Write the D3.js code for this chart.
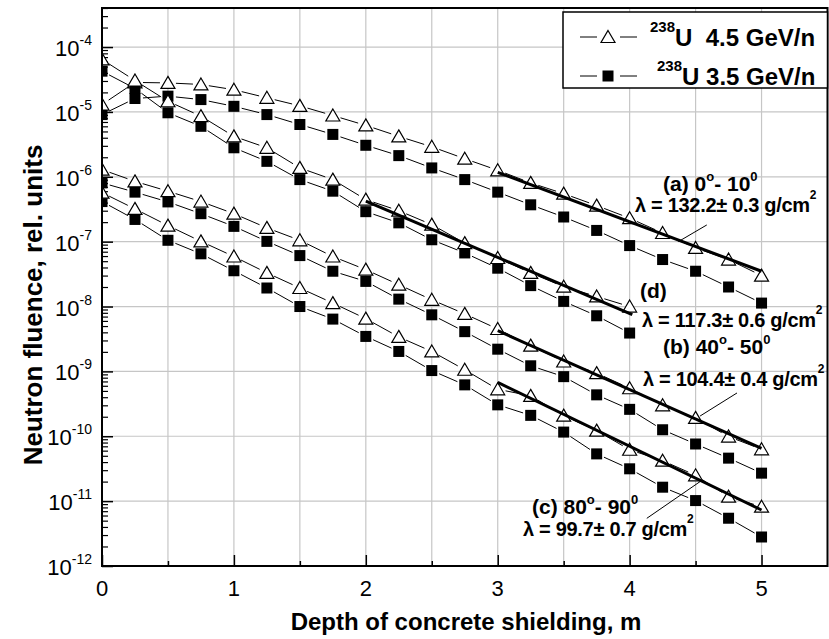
<!DOCTYPE html>
<html>
<head>
<meta charset="utf-8">
<script src="https://cdn.jsdelivr.net/npm/d3@7"></script>
<style>
  body { margin: 0; background: #fff; }
  text { font-family: "Liberation Sans", Arial, sans-serif; fill: #000; }
</style>
</head>
<body>
<svg id="chart" width="829" height="639"></svg>
<script>
// Depth of concrete (m)
const depthFull = [0, 0.25, 0.5, 0.75, 1, 1.25, 1.5, 1.75, 2, 2.25, 2.5, 2.75, 3, 3.25, 3.5, 3.75, 4, 4.25, 4.5, 4.75, 5];
const depthShort = [0, 0.25, 0.5, 0.75, 1, 1.25, 1.5, 1.75, 2, 2.25, 2.5, 2.75, 3, 3.25, 3.5, 3.75, 4];

// (a) 0-10 deg
const fluenceA45 = [1.30e-5, 2.85e-5, 2.8e-5, 2.65e-5, 2.2e-5, 1.65e-5, 1.24e-5, 8.8e-6, 6.2e-6, 4.2e-6, 2.9e-6, 1.9e-6, 1.26e-6, 8.05e-7, 5.5e-7, 3.6e-7, 2.3e-7, 1.36e-7, 8.0e-8, 5.3e-8, 3.0e-8];
const fluenceA35 = [9.1e-6, 1.61e-5, 1.75e-5, 1.55e-5, 1.22e-5, 9.1e-6, 6.4e-6, 4.5e-6, 3.06e-6, 2.12e-6, 1.37e-6, 9.05e-7, 5.8e-7, 3.7e-7, 2.4e-7, 1.49e-7, 8.7e-8, 5.3e-8, 3.5e-8, 2.0e-8, 1.13e-8];
// (d)
const fluenceD45 = [6.45e-5, 3.05e-5, 1.46e-5, 8.6e-6, 4.2e-6, 2.8e-6, 1.37e-6, 9.05e-7, 4.45e-7, 3.0e-7, 1.83e-7, 9.5e-8, 5.6e-8, 3.3e-8, 2.02e-8, 1.43e-8, 1.0e-8];
const fluenceD35 = [4.25e-5, 2.3e-5, 9.7e-6, 6.0e-6, 2.8e-6, 1.73e-6, 9.05e-7, 6.0e-7, 2.9e-7, 1.95e-7, 1.07e-7, 6.7e-8, 3.9e-8, 2.1e-8, 1.2e-8, 7.2e-9, 3.9e-9];
// (b) 40-50 deg
const fluenceB45 = [1.29e-6, 8.5e-7, 6.0e-7, 4.15e-7, 2.7e-7, 1.63e-7, 1.05e-7, 5.9e-8, 3.7e-8, 2.17e-8, 1.27e-8, 7.7e-9, 4.5e-9, 2.5e-9, 1.42e-9, 9.4e-10, 5.5e-10, 3.0e-10, 1.92e-10, 9.9e-11, 6.3e-11];
const fluenceB35 = [8.05e-7, 5.8e-7, 4.1e-7, 2.7e-7, 1.72e-7, 1.01e-7, 6.1e-8, 3.5e-8, 2.44e-8, 1.3e-8, 7.45e-9, 4.1e-9, 2.2e-9, 1.22e-9, 8.3e-10, 4.35e-10, 2.6e-10, 1.26e-10, 7.6e-11, 4.6e-11, 2.7e-11];
// (c) 80-90 deg
const fluenceC45 = [5.7e-7, 3.2e-7, 1.77e-7, 1.01e-7, 5.9e-8, 3.3e-8, 1.93e-8, 1.13e-8, 6.5e-9, 3.4e-9, 2.03e-9, 1.06e-9, 5.3e-10, 4.2e-10, 2.08e-10, 1.22e-10, 6.2e-11, 4.2e-11, 2.5e-11, 1.17e-11, 8.2e-12];
const fluenceC35 = [4.15e-7, 2.2e-7, 1.05e-7, 6.5e-8, 3.56e-8, 1.93e-8, 1.0e-8, 6.4e-9, 3.46e-9, 2.03e-9, 1.03e-9, 6.2e-10, 3.05e-10, 2.1e-10, 1.16e-10, 5.35e-11, 3.15e-11, 1.64e-11, 1.02e-11, 5.45e-12, 2.8e-12];

// Exponential fits (start/end depth, start/end fluence)
const fitDepths = [[3, 5], [2, 4.02], [3, 5], [3, 5]];
const fitValues = [[1.17e-6, 3.5e-8], [4.2e-7, 7.5e-9], [4.24e-9, 6.5e-11], [6.75e-10, 7.3e-12]];
// Leader lines from the labels to the fits
const leaderDepths = [[4.369, 4.585], [4.534, 4.814], [4.130, 4.534]];
const leaderValues = [[1.0e-7, 1.81e-7], [2.05e-10, 4.65e-10], [5.43e-12, 2.0e-11]];

const xTicks = [0, 1, 2, 3, 4, 5];
const xMinorTicks = [0.5, 1.5, 2.5, 3.5, 4.5];
const xGrid = [0.5, 1, 1.5, 2, 2.5, 3, 3.5, 4, 4.5, 5];
const yExponents = [-12, -11, -10, -9, -8, -7, -6, -5, -4];
const legendLabels = [{iso: "238", text: "U  4.5 GeV/n"}, {iso: "238", text: "U 3.5 GeV/n"}];

const series = [
  {x: depthFull, y: fluenceA35, sym: "square"},
  {x: depthFull, y: fluenceA45, sym: "triangle"},
  {x: depthShort, y: fluenceD35, sym: "square"},
  {x: depthShort, y: fluenceD45, sym: "triangle"},
  {x: depthFull, y: fluenceB35, sym: "square"},
  {x: depthFull, y: fluenceB45, sym: "triangle"},
  {x: depthFull, y: fluenceC35, sym: "square"},
  {x: depthFull, y: fluenceC45, sym: "triangle"}
];

const svg = d3.select("#chart");
const L = 102, R = 827.5, T = 8, B = 566;
const x = d3.scaleLinear().domain([0, 5.5]).range([L, R]);
const y = d3.scaleLog().domain([1e-12, 4e-4]).range([B, T]);

svg.append("defs").append("clipPath").attr("id", "plotClip")
  .append("rect").attr("x", L).attr("y", T).attr("width", R - L).attr("height", B - T);

// grid
const grid = svg.append("g").attr("stroke", "#c6c6c6").attr("stroke-width", 1.2);
grid.selectAll(".gx").data(xGrid).join("line")
  .attr("x1", d => x(d)).attr("x2", d => x(d)).attr("y1", T).attr("y2", B);
grid.selectAll(".gy").data(yExponents.slice(1)).join("line")
  .attr("x1", L).attr("x2", R).attr("y1", d => y(Math.pow(10, d))).attr("y2", d => y(Math.pow(10, d)));

// axes (ticks point inward)
const yMinor = [];
yExponents.forEach(e => { for (let m = 2; m <= 9; m++) { const v = m * Math.pow(10, e); if (v <= 4e-4) yMinor.push(v); } });
svg.append("g").attr("transform", `translate(${L},0)`)
  .call(d3.axisLeft(y).tickValues(yMinor).tickSize(-6).tickFormat(""))
  .call(g => g.select(".domain").remove())
  .call(g => g.selectAll("line").attr("stroke-width", 1.2));
svg.append("g").attr("transform", `translate(${L},0)`)
  .call(d3.axisLeft(y).tickValues(yExponents.map(e => Math.pow(10, e))).tickSize(-11).tickFormat(""))
  .call(g => g.select(".domain").remove())
  .call(g => g.selectAll("line").attr("stroke-width", 1.5));
svg.append("g").attr("transform", `translate(0,${B})`)
  .call(d3.axisBottom(x).tickValues(xMinorTicks).tickSize(-5).tickFormat(""))
  .call(g => g.select(".domain").remove())
  .call(g => g.selectAll("line").attr("stroke-width", 1.5));
svg.append("g").attr("transform", `translate(0,${B})`)
  .call(d3.axisBottom(x).tickValues(xTicks).tickSize(-11).tickFormat(""))
  .call(g => g.select(".domain").remove())
  .call(g => g.selectAll("line").attr("stroke-width", 1.5));

// tick labels
svg.append("g").selectAll("text").data(xTicks).join("text")
  .attr("x", d => x(d)).attr("y", B + 30).attr("text-anchor", "middle")
  .attr("font-size", 22).text(d => d);
const yl = svg.append("g").selectAll("text").data(yExponents).join("text")
  .attr("x", L - 10).attr("y", d => y(Math.pow(10, d)) + 9).attr("text-anchor", "end")
  .attr("font-size", 22);
yl.append("tspan").text("10");
yl.append("tspan").attr("font-size", 14).attr("dy", -11).text(d => "-" + Math.abs(d));

// axis titles
svg.append("text").attr("x", 466).attr("y", 630).attr("text-anchor", "middle")
  .attr("font-size", 24).attr("font-weight", "bold").text("Depth of concrete shielding, m");
svg.append("text").attr("transform", "translate(42,305) rotate(-90)")
  .attr("text-anchor", "middle").attr("font-size", 26).attr("font-weight", "bold")
  .text("Neutron fluence, rel. units");

// data
const plot = svg.append("g").attr("clip-path", "url(#plotClip)");
const GAP = 8;
function gapSegments(xs, ys) {
  const pts = xs.map((d, i) => [x(d), y(ys[i])]);
  const segs = [];
  for (let i = 0; i < pts.length - 1; i++) {
    const [x0, y0] = pts[i], [x1, y1] = pts[i + 1];
    const len = Math.hypot(x1 - x0, y1 - y0);
    if (len <= 2 * GAP) continue;
    const ux = (x1 - x0) / len, uy = (y1 - y0) / len;
    segs.push([x0 + ux * GAP, y0 + uy * GAP, x1 - ux * GAP, y1 - uy * GAP]);
  }
  return segs;
}
const triPath = "M0,-6.5L7,5.5L-7,5.5Z";
series.forEach(s => {
  plot.append("g").selectAll("line").data(gapSegments(s.x, s.y)).join("line")
    .attr("x1", d => d[0]).attr("y1", d => d[1]).attr("x2", d => d[2]).attr("y2", d => d[3])
    .attr("stroke", "#000").attr("stroke-width", 1);
});
series.forEach(s => {
  const pts = s.x.map((d, i) => [d, s.y[i]]);
  if (s.sym === "square") {
    plot.append("g").selectAll("rect").data(pts).join("rect")
      .attr("x", d => x(d[0]) - 5.5).attr("y", d => y(d[1]) - 5.5)
      .attr("width", 11).attr("height", 11).attr("fill", "#000");
  } else {
    plot.append("g").selectAll("path").data(pts).join("path")
      .attr("transform", d => `translate(${x(d[0])},${y(d[1])})`)
      .attr("d", triPath).attr("fill", "#fff").attr("stroke", "#000").attr("stroke-width", 1.2);
  }
});

// fits and leaders
plot.append("g").selectAll("line").data(fitDepths.map((d, i) => [d, fitValues[i]])).join("line")
  .attr("x1", d => x(d[0][0])).attr("x2", d => x(d[0][1]))
  .attr("y1", d => y(d[1][0])).attr("y2", d => y(d[1][1]))
  .attr("stroke", "#000").attr("stroke-width", 3);
plot.append("g").selectAll("line").data(leaderDepths.map((d, i) => [d, leaderValues[i]])).join("line")
  .attr("x1", d => x(d[0][0])).attr("x2", d => x(d[0][1]))
  .attr("y1", d => y(d[1][0])).attr("y2", d => y(d[1][1]))
  .attr("stroke", "#000").attr("stroke-width", 1);

// frame
svg.append("rect").attr("x", L).attr("y", T).attr("width", R - L).attr("height", B - T)
  .attr("fill", "none").attr("stroke", "#000").attr("stroke-width", 2);

// annotations
function angleLabel(px, py, tag, a, b) {
  const t = svg.append("text").attr("x", px).attr("y", py).attr("font-size", 21).attr("font-weight", "bold");
  t.append("tspan").text(`(${tag}) ${a}`);
  t.append("tspan").attr("font-size", 13).attr("dy", -10).text("o");
  t.append("tspan").attr("dy", 10).text(`- ${b}`);
  t.append("tspan").attr("font-size", 13).attr("dy", -10).text("0");
}
function lambdaLabel(px, py, txt) {
  const t = svg.append("text").attr("x", px).attr("y", py).attr("font-size", 20)
    .attr("font-weight", "bold").attr("letter-spacing", -0.3);
  t.append("tspan").text(`\u03bb = ${txt} g/cm`);
  t.append("tspan").attr("font-size", 12).attr("dy", -13).text("2");
}
angleLabel(663, 191, "a", "0", "10");
lambdaLabel(635, 212, "132.2\u00b1 0.3");
svg.append("text").attr("x", 640).attr("y", 298).attr("font-size", 21).attr("font-weight", "bold").text("(d)");
lambdaLabel(642, 327, "117.3\u00b1 0.6");
angleLabel(663, 354, "b", "40", "50");
lambdaLabel(643, 386, "104.4\u00b1 0.4");
angleLabel(532, 514, "c", "80", "90");
lambdaLabel(523, 536, "99.7\u00b1 0.7");

// legend
const lg = svg.append("g");
lg.append("rect").attr("x", 563).attr("y", 12).attr("width", 264.5).attr("height", 76)
  .attr("fill", "#fff").attr("stroke", "#000").attr("stroke-width", 1.5);
const rowY = [37, 76];
const rowTextX = [650, 657];
rowY.forEach((ry, i) => {
  lg.append("line").attr("x1", 580).attr("x2", 597).attr("y1", ry).attr("y2", ry).attr("stroke", "#000");
  lg.append("line").attr("x1", 620).attr("x2", 637).attr("y1", ry).attr("y2", ry).attr("stroke", "#000");
  if (i === 0) {
    lg.append("path").attr("transform", `translate(608,${ry})`).attr("d", triPath)
      .attr("fill", "#fff").attr("stroke", "#000").attr("stroke-width", 1.2);
  } else {
    lg.append("rect").attr("x", 608 - 5.5).attr("y", ry - 5.5).attr("width", 11).attr("height", 11).attr("fill", "#000");
  }
  const t = lg.append("text").attr("x", rowTextX[i]).attr("y", ry + 9).attr("text-anchor", "start")
    .attr("font-weight", "bold").attr("font-size", 24).style("white-space", "pre");
  t.append("tspan").attr("font-size", 15).attr("dy", -14).text(legendLabels[i].iso);
  t.append("tspan").attr("dy", 14).text(legendLabels[i].text);
});
</script>
</body>
</html>
